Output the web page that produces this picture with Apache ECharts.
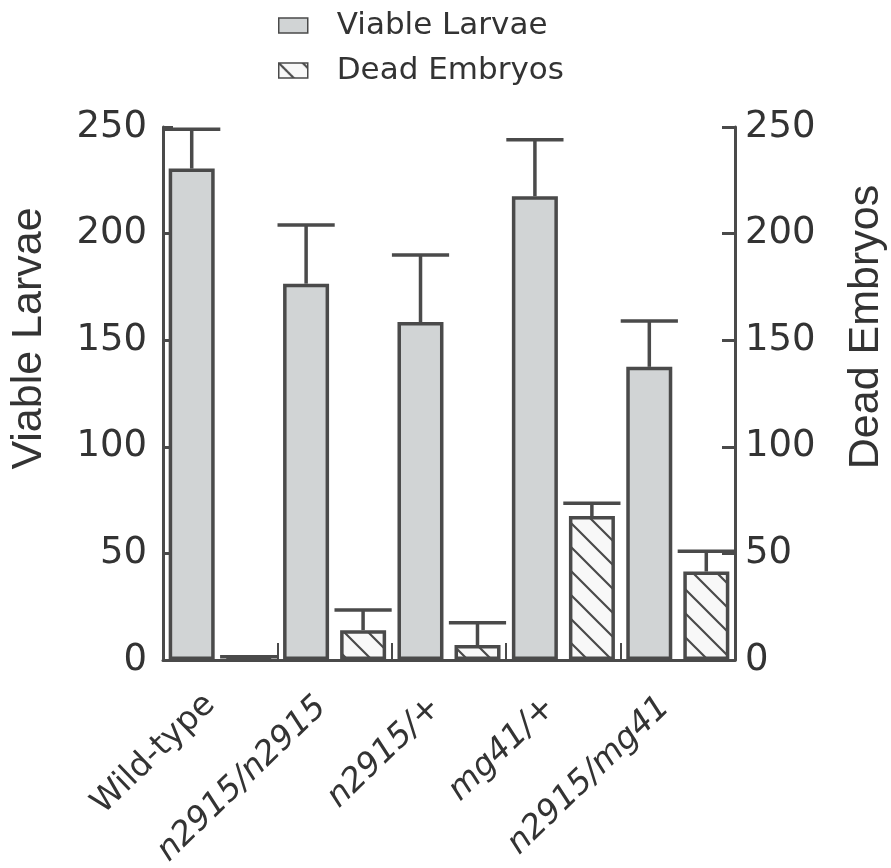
<!DOCTYPE html>
<html>
<head>
<meta charset="utf-8">
<script src="https://cdn.jsdelivr.net/npm/echarts@6/dist/echarts.min.js"></script>
<style>
html,body{margin:0;padding:0;background:#fff;}
#chart{width:891px;height:868px;}
</style>
</head>
<body>
<div id="chart"></div>
<script>
var categories = ['Wild-type', 'n2915/n2915', 'n2915/+', 'mg41/+', 'n2915/mg41'];
var viableLarvae = [230.5, 176.5, 158.5, 217.5, 137.5];
var viableErrTop = [249, 204, 190, 244, 159];
var deadEmbryos = [0.5, 14, 7, 67.5, 41.5];
var deadErrTop = [1.5, 23.5, 17.5, 73.5, 51];
var yTicks = [0, 50, 100, 150, 200, 250];

var dark = '#4a4a4a';
var textCol = '#333333';

// hatch pattern
var pc = document.createElement('canvas');
pc.width = 24; pc.height = 24;
var ctx = pc.getContext('2d');
ctx.fillStyle = '#f8f8f8';
ctx.fillRect(0, 0, 24, 24);
ctx.strokeStyle = dark;
ctx.lineWidth = 2.2;
ctx.beginPath();
ctx.moveTo(-2, -2); ctx.lineTo(26, 26);
ctx.moveTo(-26, -2); ctx.lineTo(2, 26);
ctx.moveTo(22, -2); ctx.lineTo(50, 26);
ctx.stroke();

function errData(tops, vals) {
  return tops.map(function (t, i) { return [i, vals[i], t]; });
}

function makeErrRender(offFrac) {
  return function (params, api) {
    var i = api.value(0);
    var base = api.coord([i, api.value(1)]);
    var top = api.coord([i, api.value(2)]);
    var band = api.size([1, 0])[0];
    var x = base[0] + band * offFrac;
    var half = band * 0.25;
    return {
      type: 'group',
      children: [
        {type: 'line', shape: {x1: x, y1: base[1], x2: x, y2: top[1]}, style: {stroke: dark, lineWidth: 3.5}},
        {type: 'line', shape: {x1: x - half, y1: top[1], x2: x + half, y2: top[1]}, style: {stroke: dark, lineWidth: 3.5}}
      ]
    };
  };
}

var chart = echarts.init(document.getElementById('chart'), null, {renderer: 'canvas'});

var yAxisCommon = {
  type: 'value', min: yTicks[0], max: yTicks[yTicks.length - 1], interval: 50,
  splitLine: {show: false},
  axisLine: {show: true, lineStyle: {color: dark, width: 3}},
  nameLocation: 'middle', nameRotate: 90,
  axisLabel: {color: textCol, fontFamily: 'DejaVu Sans', fontSize: 37}
};

var option = {
  animation: false,
  backgroundColor: '#ffffff',
  textStyle: {fontFamily: 'DejaVu Sans'},
  legend: {
    data: ['Viable Larvae', 'Dead Embryos'],
    orient: 'vertical',
    left: 273, top: 5,
    icon: 'rect',
    itemWidth: 29, itemHeight: 15,
    itemGap: 14,
    textStyle: {color: textCol, fontFamily: 'DejaVu Sans', fontSize: 31, padding: [0, 0, 0, 24]},
    itemStyle: {borderWidth: 1.5, borderColor: dark}
  },
  grid: {left: 163, right: 156, top: 127, bottom: 208, containLabel: false, outerBoundsMode: 'none'},
  xAxis: {
    type: 'category',
    data: categories,
    axisLine: {show: true, lineStyle: {color: dark, width: 3}},
    axisTick: {show: true, inside: true, length: 17, lineStyle: {color: dark, width: 2}},
    axisLabel: {
      rotate: 44, margin: 30, interval: 0,
      formatter: function (v, idx) { return idx === 0 ? '{n|' + v + '}' : '{i|' + v + '}'; },
      rich: {
        n: {color: textCol, fontFamily: 'DejaVu Sans', fontSize: 33, padding: [0, 14, 0, 0]},
        i: {color: textCol, fontFamily: 'DejaVu Sans', fontSize: 33, fontStyle: 'italic', padding: [0, 18, 0, 0]}
      }
    }
  },
  yAxis: [
    Object.assign({}, yAxisCommon, {
      position: 'left', name: 'Viable Larvae', nameGap: 112,
      nameTextStyle: {color: textCol, fontFamily: 'Liberation Sans', fontSize: 43, padding: [0, 0, 0, 110]},
      axisTick: {show: true, inside: true, length: 10, lineStyle: {color: dark, width: 3}},
      axisLabel: Object.assign({}, yAxisCommon.axisLabel, {margin: 16})
    }),
    Object.assign({}, yAxisCommon, {
      position: 'right', name: 'Dead Embryos', nameGap: 110,
      nameTextStyle: {color: textCol, fontFamily: 'Liberation Sans', fontSize: 43, padding: [0, 0, 0, 133]},
      axisTick: {show: true, inside: true, length: 13, lineStyle: {color: dark, width: 3}},
      axisLabel: Object.assign({}, yAxisCommon.axisLabel, {margin: 10})
    })
  ],
  series: [
    {
      name: 'Viable Larvae', type: 'bar', yAxisIndex: 0,
      data: viableLarvae, barWidth: 46, barGap: '24%',
      itemStyle: {color: '#d1d4d5', borderColor: dark, borderWidth: 3.5},
      z: 2
    },
    {
      name: 'Dead Embryos', type: 'bar', yAxisIndex: 1,
      data: deadEmbryos, barWidth: 46, barGap: '24%',
      itemStyle: {color: {image: pc, repeat: 'repeat'}, borderColor: dark, borderWidth: 3.5},
      z: 2
    },
    {
      name: 'viableErr', type: 'custom', yAxisIndex: 0,
      data: errData(viableErrTop, viableLarvae),
      renderItem: makeErrRender(-0.249), z: 3, silent: true
    },
    {
      name: 'deadErr', type: 'custom', yAxisIndex: 1,
      data: errData(deadErrTop, deadEmbryos),
      renderItem: makeErrRender(0.249), z: 3, silent: true
    }
  ]
};
chart.setOption(option);
</script>
</body>
</html>
